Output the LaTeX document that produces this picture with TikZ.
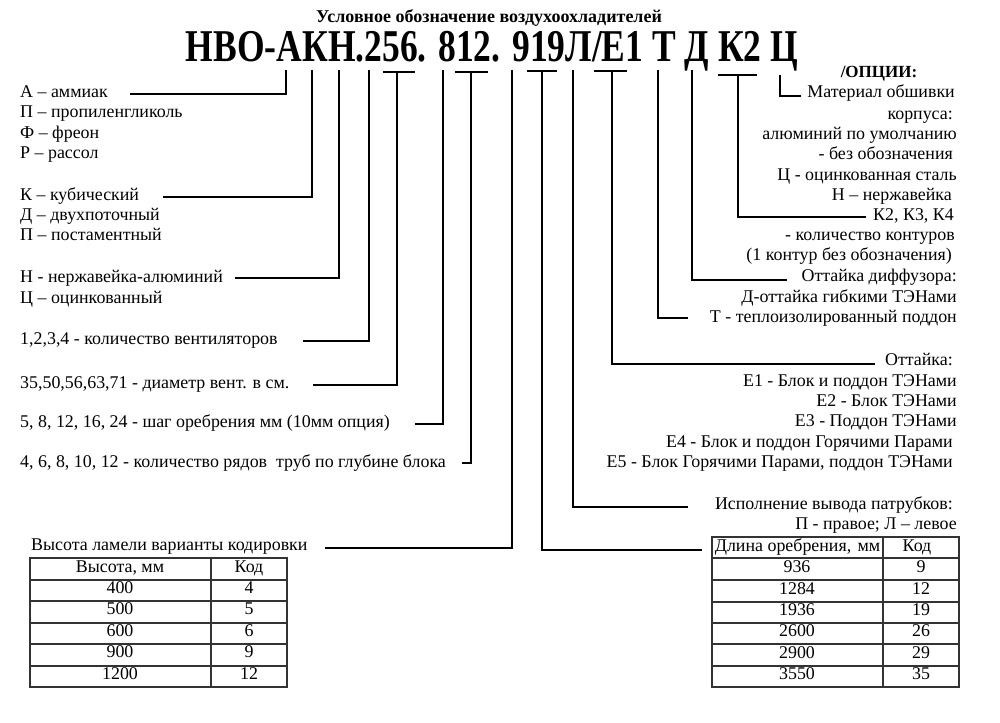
\documentclass[tikz,border=0pt]{standalone}
\usepackage{fontspec}
\setmainfont{Liberation Serif}
\begin{document}
\begin{tikzpicture}[x=1pt,y=-1pt,
  txt/.style={font=\fontsize{17.9}{17.9}\selectfont, inner sep=0pt},
  lft/.style={txt, anchor=mid west},
  rgt/.style={txt, anchor=mid east},
  cell/.style={txt, anchor=mid},
  con/.style={line width=1.3pt},
  tbl/.style={line width=1.1pt, black!80}]
\useasboundingbox (0,0) rectangle (1000,722);
% titles
\node[font=\bfseries\fontsize{18}{18}\selectfont, inner sep=0pt, anchor=base] (title) at (489,23) {Условное обозначение воздухоохладителей};
\node[font=\bfseries\fontsize{45.5}{45.5}\selectfont, inner sep=0pt, anchor=base, xscale=0.78] (code) at (492,62) {НВО-АКН.256. 812. 919Л/Е1 Т Д К2 Ц};

% left texts
\node[lft] (lA1) at (20,95) {А – аммиак};
\node[lft] (lA2) at (20,115) {П – пропиленгликоль};
\node[lft] (lA3) at (20,136) {Ф – фреон};
\node[lft] (lA4) at (20,156) {Р – рассол};
\node[lft] (lK1) at (20,198) {К – кубический};
\node[lft] (lK2) at (20,218) {Д – двухпоточный};
\node[lft] (lK3) at (20,238) {П – постаментный};
\node[lft] (lN1) at (20,280) {Н - нержавейка-алюминий};
\node[lft] (lN2) at (20,301) {Ц – оцинкованный};
\node[lft] (lV) at (20,342) {1,2,3,4 - количество вентиляторов};
\node[lft] (lD) at (20,386) {35,50,56,63,71 - диаметр вент. в см.};
\node[lft] (lS) at (20,425) {5, 8, 12, 16, 24 - шаг оребрения мм (10мм опция)};
\node[lft] (lR) at (20,465) {4, 6, 8, 10, 12 - количество рядов\ \ труб по глубине блока};
\node[lft] (lH) at (31,548) {Высота ламели варианты кодировки};

% right texts
\node[txt, font=\bfseries\fontsize{17}{17}\selectfont, anchor=mid] (opt) at (879,75) {/ОПЦИИ:};
\node[rgt] (rC1) at (955,95) {Материал обшивки};
\node[rgt] (rC2) at (953,117) {корпуса:};
\node[rgt] (rC3) at (957,137) {алюминий по умолчанию};
\node[rgt] (rC4) at (953,157) {- без обозначения};
\node[rgt] (rC5) at (957,178) {Ц - оцинкованная сталь};
\node[rgt] (rC6) at (952,198) {Н – нержавейка};
\node[rgt] (rK1) at (954,218) {К2, К3, К4};
\node[rgt] (rK2) at (955,238) {- количество контуров};
\node[rgt] (rK3) at (952,258) {(1 контур без обозначения)};
\node[rgt] (rD1) at (957,279) {Оттайка диффузора:};
\node[rgt] (rD2) at (957,300) {Д-оттайка гибкими ТЭНами};
\node[rgt] (rT) at (957,320) {Т - теплоизолированный поддон};
\node[rgt] (rE0) at (953,363) {Оттайка:};
\node[rgt] (rE1) at (957,384) {Е1 - Блок и поддон ТЭНами};
\node[rgt] (rE2) at (957,404) {Е2 - Блок ТЭНами};
\node[rgt] (rE3) at (957,424) {Е3 - Поддон ТЭНами};
\node[rgt] (rE4) at (953,445) {Е4 - Блок и поддон Горячими Парами};
\node[rgt] (rE5) at (953,465) {Е5 - Блок Горячими Парами, поддон ТЭНами};
\node[rgt] (rP1) at (953,507) {Исполнение вывода патрубков:};
\node[rgt] (rP2) at (957,527) {П - правое; Л – левое};

% connector tops (under the code) and free ends
\coordinate (tA) at (286,70);  \coordinate (eA) at (130,94);
\coordinate (tK) at (312,70);  \coordinate (eK) at (163,197);
\coordinate (tN) at (339,70);  \coordinate (eN) at (235,278);
\coordinate (tV) at (369,70);  \coordinate (eV) at (303,341);
\coordinate (tD) at (397,72);  \coordinate (eD) at (313,385);
\coordinate (tS) at (443,70);  \coordinate (eS) at (415,424);
\coordinate (tR) at (471,72);  \coordinate (eR) at (462,463);
\coordinate (tH) at (512,70);  \coordinate (eH) at (325,548);
\coordinate (tL) at (542,71);  \coordinate (eL) at (702,550);
\coordinate (tP) at (573,70);  \coordinate (eP) at (688,507);
\coordinate (tE) at (612,71);  \coordinate (eE) at (875,364);
\coordinate (tT) at (658,70);  \coordinate (eT) at (688,318);
\coordinate (tF) at (692,70);  \coordinate (eF) at (787,280);
\coordinate (tK2) at (738,75); \coordinate (eK2) at (866,217);
\coordinate (tC) at (780,75);  \coordinate (eC) at (801,96);

\draw[con] (tA) |- (eA);
\draw[con] (tK) |- (eK);
\draw[con] (tN) |- (eN);
\draw[con] (tV) |- (eV);
\draw[con] ([xshift=-14pt]tD) -- ([xshift=18pt]tD) (tD) |- (eD);
\draw[con] (tS) |- (eS);
\draw[con] ([xshift=-16pt]tR) -- ([xshift=17pt]tR) (tR) |- (eR);
\draw[con] (tH) |- (eH);
\draw[con] ([xshift=-15pt]tL) -- ([xshift=15pt]tL) (tL) |- (eL);
\draw[con] (tP) |- (eP);
\draw[con] ([xshift=-18pt]tE) -- ([xshift=15pt]tE) (tE) |- (eE);
\draw[con] (tT) |- (eT);
\draw[con] (tF) |- (eF);
\draw[con] ([xshift=-20pt]tK2) -- ([xshift=19pt]tK2) (tK2) |- (eK2);
\draw[con] (tC) |- (eC);

% left table
\draw[tbl] (30,558) rectangle (287,687);
\draw[tbl] (211,558) -- (211,687);
\foreach \y in {580,601,623,644,666} \draw[tbl] (30,\y) -- (287,\y);
\node[cell] (h00) at (120,570) {Высота, мм};
\node[cell] (h01) at (249,570) {Код};
\node[cell] (h10) at (120,591) {400};
\node[cell] (h11) at (249,591) {4};
\node[cell] (h20) at (120,612) {500};
\node[cell] (h21) at (249,612) {5};
\node[cell] (h30) at (120,634) {600};
\node[cell] (h31) at (249,634) {6};
\node[cell] (h40) at (120,655) {900};
\node[cell] (h41) at (249,655) {9};
\node[cell] (h50) at (120,677) {1200};
\node[cell] (h51) at (249,677) {12};

% right table
\draw[tbl] (712,537) rectangle (959,687);
\draw[tbl] (883,537) -- (883,687);
\foreach \y in {558,580,602,623,644,666} \draw[tbl] (712,\y) -- (959,\y);
\node[cell] (d00) at (797.5,549) {Длина оребрения,\hspace{0.35em}мм};
\node[cell] (d01) at (917,549) {Код};
\node[cell] (d10) at (797,570) {936};
\node[cell] (d11) at (921,570) {9};
\node[cell] (d20) at (797,592) {1284};
\node[cell] (d21) at (921,592) {12};
\node[cell] (d30) at (797,613) {1936};
\node[cell] (d31) at (921,613) {19};
\node[cell] (d40) at (797,634) {2600};
\node[cell] (d41) at (921,634) {26};
\node[cell] (d50) at (797,656) {2900};
\node[cell] (d51) at (921,656) {29};
\node[cell] (d60) at (797,677) {3550};
\node[cell] (d61) at (921,677) {35};
\end{tikzpicture}
\end{document}
